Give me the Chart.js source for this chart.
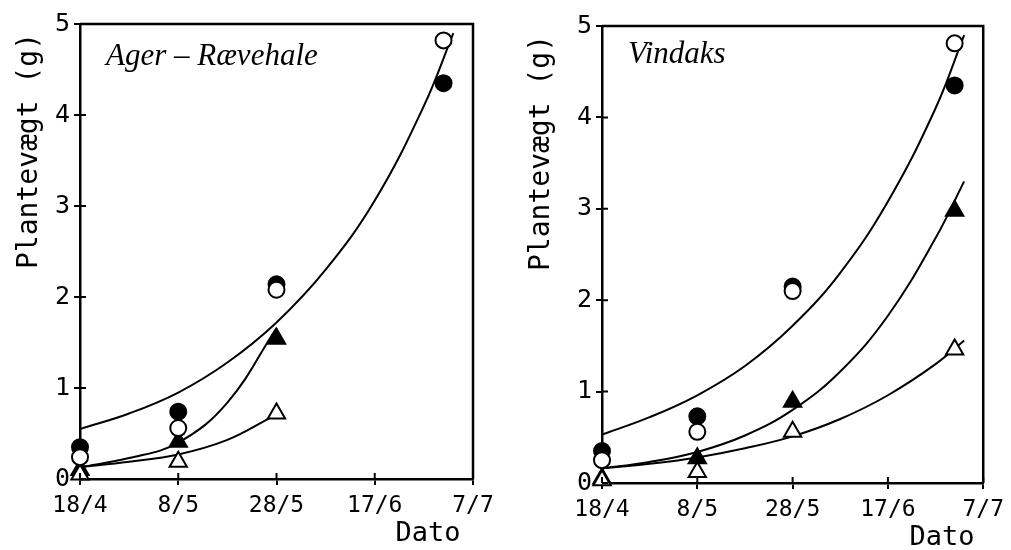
<!DOCTYPE html>
<html>
<head>
<meta charset="utf-8">
<script src="https://cdn.jsdelivr.net/npm/chart.js@4.4.1/dist/chart.umd.min.js"></script>
<style>
  body { margin: 0; background: #fff; }
  .panel { position: absolute; top: 0; height: 550px; }
  #p1 { left: 0; width: 505px; }
  #p2 { left: 505px; width: 506px; }
</style>
</head>
<body>
<div class="panel" id="p1"><canvas id="agerChart"></canvas></div>
<div class="panel" id="p2"><canvas id="vindaksChart"></canvas></div>
<script>
// x axis is days after 18/4, one tick every 20 days
const dateTicks = ["18/4", "8/5", "28/5", "17/6", "7/7"];
const sampleDays = [0, 20, 40, 74];

// Ager-Rævehale
const agerOpenCircle = [0.24, 0.56, 2.08, 4.82];
const agerFilledCircle = [0.35, 0.74, 2.14, 4.35];
const agerFilledTriangle = [0.1, 0.41, 1.54];
const agerOpenTriangle = [0.05, 0.19, 0.72];
const agerTopCurveDays = [0, 10, 20, 30, 40, 50, 60, 70, 76];
const agerTopCurve = [0.55, 0.72, 0.95, 1.28, 1.72, 2.3, 3.06, 4.1, 4.9];
const agerMidCurveDays = [0, 10, 20, 30, 40];
const agerMidCurve = [0.13, 0.23, 0.4, 0.84, 1.66];
const agerLowCurveDays = [0, 10, 20, 30, 39];
const agerLowCurve = [0.13, 0.19, 0.27, 0.43, 0.68];

// Vindaks
const vindOpenCircle = [0.25, 0.56, 2.1, 4.81];
const vindFilledCircle = [0.35, 0.73, 2.15, 4.35];
const vindFilledTriangle = [0.05, 0.27, 0.89, 2.98];
const vindOpenTriangle = [0.03, 0.12, 0.56, 1.46];
const vindCurveDays = [0, 10, 20, 30, 40, 50, 60, 70, 76];
const vindTopCurve = [0.53, 0.72, 0.96, 1.28, 1.72, 2.3, 3.08, 4.1, 4.9];
const vindMidCurve = [0.16, 0.23, 0.34, 0.52, 0.8, 1.22, 1.83, 2.68, 3.3];
const vindLowCurve = [0.16, 0.21, 0.28, 0.38, 0.51, 0.7, 0.96, 1.3, 1.56];

const toXY = (xs, ys) => ys.map((y, i) => ({ x: xs[i], y: y }));

function markers(data, style, fill) {
  return {
    data: data,
    showLine: false,
    clip: false,
    pointStyle: style,
    pointRadius: style === "triangle" ? 10 : 8,
    pointBackgroundColor: fill,
    pointBorderColor: "#000",
    pointBorderWidth: 2,
  };
}

function curve(data) {
  return {
    data: data,
    showLine: true,
    pointRadius: 0,
    borderColor: "#000",
    borderWidth: 2,
    tension: 0.4,
  };
}

// frame on top/right and ticks that cross the axes
const framePlugin = {
  id: "frame",
  afterDraw(chart) {
    const { ctx, chartArea: a, scales } = chart;
    ctx.save();
    ctx.strokeStyle = "#000";
    ctx.lineWidth = 2.5;
    ctx.beginPath();
    ctx.moveTo(a.left, a.top);
    ctx.lineTo(a.right, a.top);
    ctx.lineTo(a.right, a.bottom);
    ctx.stroke();
    ctx.lineWidth = 2;
    ctx.beginPath();
    scales.x.ticks.forEach((t) => {
      const px = scales.x.getPixelForValue(t.value);
      ctx.moveTo(px, a.bottom);
      ctx.lineTo(px, a.bottom - 6);
    });
    scales.y.ticks.forEach((t) => {
      const py = scales.y.getPixelForValue(t.value);
      ctx.moveTo(a.left, py);
      ctx.lineTo(a.left + 6, py);
    });
    ctx.stroke();
    ctx.restore();
  },
};

const textPlugin = {
  id: "panelText",
  afterDraw(chart, args, o) {
    const ctx = chart.ctx;
    ctx.save();
    ctx.fillStyle = "#000";
    ctx.font = "italic 31px 'Liberation Serif'";
    ctx.textAlign = "left";
    ctx.textBaseline = "alphabetic";
    ctx.fillText(o.title, o.titleX, o.titleY);
    ctx.font = "27px 'DejaVu Sans Mono'";
    ctx.textAlign = "center";
    ctx.textBaseline = "middle";
    ctx.fillText("Dato", o.datoX, o.datoY);
    ctx.translate(o.yLabelX, o.yLabelY);
    ctx.rotate(-Math.PI / 2);
    ctx.font = "28px 'DejaVu Sans Mono'";
    ctx.fillText("Plantevægt (g)", 0, 0);
    ctx.restore();
  },
};

function makeChart(id, area, width, datasets, text) {
  return new Chart(document.getElementById(id), {
    type: "scatter",
    data: { datasets: datasets },
    plugins: [framePlugin, textPlugin],
    options: {
      responsive: true,
      maintainAspectRatio: false,
      animation: false,
      layout: { padding: { top: area.top, right: width - area.right, left: 0, bottom: 0 } },
      plugins: { legend: { display: false }, tooltip: { enabled: false }, panelText: text },
      scales: {
        x: {
          type: "linear",
          min: 0,
          max: 80,
          afterFit: (s) => { s.height = 550 - area.bottom; },
          border: { color: "#000", width: 2.5 },
          grid: { drawOnChartArea: false, tickLength: 6, color: "#000", lineWidth: 2 },
          ticks: {
            stepSize: 20,
            autoSkip: false,
            maxRotation: 0,
            padding: 7,
            color: "#000",
            font: { family: "'DejaVu Sans Mono'", size: 23 },
            callback: (v) => dateTicks[v / 20],
          },
        },
        y: {
          min: 0,
          max: 5,
          afterFit: (s) => { s.width = area.left; },
          border: { color: "#000", width: 2.5 },
          grid: { drawOnChartArea: false, tickLength: 6, color: "#000", lineWidth: 2 },
          ticks: {
            stepSize: 1,
            padding: 4,
            color: "#000",
            font: { family: "'DejaVu Sans Mono'", size: 25 },
          },
        },
      },
    },
  });
}

// dataset 0 is drawn last, so open markers sit on top of filled ones
makeChart("agerChart", { left: 80, right: 473, top: 24, bottom: 479 }, 505, [
  markers(toXY(sampleDays, agerOpenCircle), "circle", "#fff"),
  markers(toXY(sampleDays, agerFilledCircle), "circle", "#000"),
  markers(toXY(sampleDays, agerOpenTriangle), "triangle", "#fff"),
  markers(toXY(sampleDays, agerFilledTriangle), "triangle", "#000"),
  curve(toXY(agerTopCurveDays, agerTopCurve)),
  curve(toXY(agerMidCurveDays, agerMidCurve)),
  curve(toXY(agerLowCurveDays, agerLowCurve)),
], { title: "Ager – Rævehale", titleX: 106, titleY: 65, datoX: 428, datoY: 534, yLabelX: 30, yLabelY: 151 });

makeChart("vindaksChart", { left: 97, right: 492, top: 26, bottom: 483 }, 506, [
  markers(toXY(sampleDays, vindOpenCircle), "circle", "#fff"),
  markers(toXY(sampleDays, vindFilledCircle), "circle", "#000"),
  markers(toXY(sampleDays, vindOpenTriangle), "triangle", "#fff"),
  markers(toXY(sampleDays, vindFilledTriangle), "triangle", "#000"),
  curve(toXY(vindCurveDays, vindTopCurve)),
  curve(toXY(vindCurveDays, vindMidCurve)),
  curve(toXY(vindCurveDays, vindLowCurve)),
], { title: "Vindaks", titleX: 123, titleY: 63, datoX: 437, datoY: 538, yLabelX: 37, yLabelY: 153 });
</script>
</body>
</html>
